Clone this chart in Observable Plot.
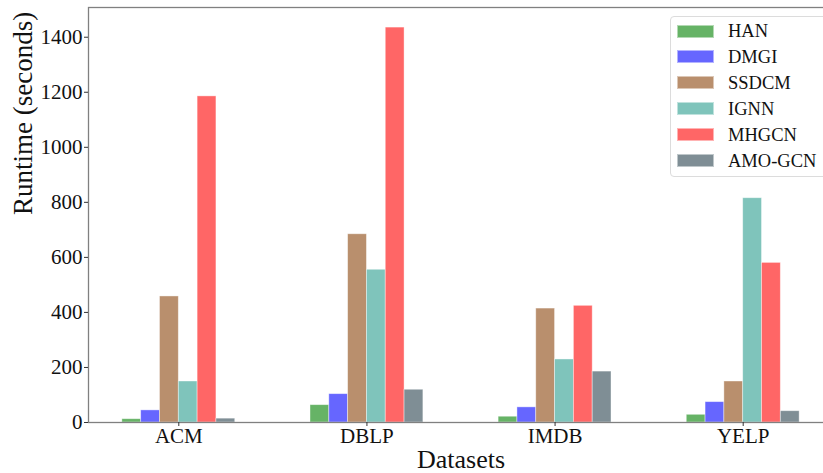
<!DOCTYPE html>
<html>
<head>
<meta charset="utf-8">
<script src="https://cdn.jsdelivr.net/npm/d3@7"></script>
<script src="https://cdn.jsdelivr.net/npm/@observablehq/plot@0.6"></script>
<style>
  html, body { margin: 0; padding: 0; background: #fff; }
  #wrap { position: relative; width: 823px; height: 473px; overflow: hidden; font-family: "Liberation Serif", "Times New Roman", serif; }
  #legend { position: absolute; left: 670px; top: 16px; width: 158px; height: 161px; box-sizing: border-box;
            border: 1px solid #dcdcdc; border-radius: 4px; background: rgba(255,255,255,0.8); }
  .sw { position: absolute; left: 6px; width: 37px; height: 13px; box-sizing: border-box; border: 1px solid rgba(255,255,255,0.5); }
  .lb { position: absolute; left: 57px; font-size: 18.5px; color: #111; white-space: nowrap; line-height: 26px; }
</style>
</head>
<body>
<div id="wrap"><div id="legend"></div></div>
<script>
const datasets = ["ACM", "DBLP", "IMDB", "YELP"];
const methods = ["HAN", "DMGI", "SSDCM", "IGNN", "MHGCN", "AMO-GCN"];
const HAN    = [12, 63, 21, 28];
const DMGI   = [44, 103, 55, 74];
const SSDCM  = [458, 684, 414, 149];
const IGNN   = [149, 555, 229, 815];
const MHGCN  = [1185, 1435, 424, 580];
const AMOGCN = [14, 119, 185, 41];
const colors = ["#66b366", "#6666ff", "#b98f6d", "#7fc4bb", "#ff6666", "#7f8e95"];
const yTicks = [0, 200, 400, 600, 800, 1000, 1200, 1400];

const series = [HAN, DMGI, SSDCM, IGNN, MHGCN, AMOGCN];
const rows = [];
methods.forEach((m, j) => series[j].forEach((v, i) => rows.push({dataset: datasets[i], method: m, value: v, i, j})));

const barW = 0.1;
const n = methods.length;

const chart = Plot.plot({
  width: 823,
  height: 473,
  marginTop: 7,
  marginBottom: 51,
  marginLeft: 88,
  marginRight: -10,
  style: {fontFamily: "'Liberation Serif', 'Times New Roman', serif", color: "#111", background: "white", overflow: "hidden"},
  x: {type: "linear", domain: [-0.48, 3.48]},
  y: {domain: [0, 1508]},
  color: {domain: methods, range: colors},
  marks: [
    Plot.rectY(rows, {
      x1: d => d.i + (d.j - n / 2) * barW,
      x2: d => d.i + (d.j - n / 2 + 1) * barW,
      y1: 0,
      y2: "value",
      fill: "method",
      stroke: "white",
      strokeOpacity: 0.5,
      strokeWidth: 0.8
    }),
    Plot.frame({stroke: "#808080", strokeWidth: 1.3}),
    Plot.axisY({ticks: yTicks, tickFormat: d => String(d), tickSize: 4, tickPadding: 2, fontSize: 21, label: null, stroke: "#333"}),
    Plot.axisX({ticks: [0, 1, 2, 3], tickFormat: i => datasets[i], tickSize: 4, tickPadding: 2, fontSize: 21, label: null, stroke: "#333"}),
    Plot.text(["Runtime (seconds)"], {text: d => d, frameAnchor: "left", rotate: -90, dx: -76, lineAnchor: "top", fontSize: 27, fill: "#111"}),
    Plot.text(["Datasets"], {text: d => d, frameAnchor: "bottom", dy: 45, lineAnchor: "bottom", fontSize: 26, fill: "#111"})
  ]
});
document.getElementById("wrap").prepend(chart);

const legend = document.getElementById("legend");
methods.forEach((m, j) => {
  const top = 1 + j * 25.9;
  const sw = document.createElement("div");
  sw.className = "sw";
  sw.style.top = (top + 6.5) + "px";
  sw.style.background = colors[j];
  const lb = document.createElement("div");
  lb.className = "lb";
  lb.style.top = (top) + "px";
  lb.textContent = m;
  legend.appendChild(sw);
  legend.appendChild(lb);
});
</script>
</body>
</html>
